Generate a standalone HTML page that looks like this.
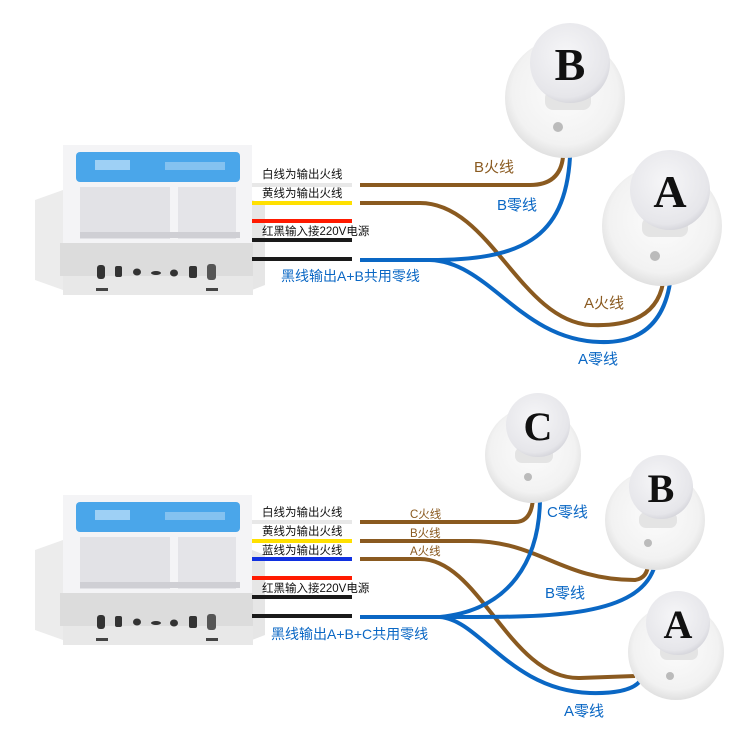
<!DOCTYPE html>
<html><head><meta charset="utf-8"><style>
body{margin:0;background:#fff;}
svg{display:block;font-family:"Liberation Sans","Noto Sans CJK SC",sans-serif;}
</style></head><body>
<svg width="750" height="749" viewBox="0 0 750 749" xmlns="http://www.w3.org/2000/svg">
<defs>
<radialGradient id="sph" cx="0.45" cy="0.4" r="0.62"><stop offset="0" stop-color="#f6f6f8"/><stop offset="0.85" stop-color="#e6e6ea"/><stop offset="1" stop-color="#d4d4da"/></radialGradient>
<radialGradient id="base" cx="0.5" cy="0.45" r="0.55"><stop offset="0" stop-color="#fcfcfc"/><stop offset="0.8" stop-color="#f2f2f2"/><stop offset="1" stop-color="#e0e0e0"/></radialGradient>
<g id="dev">
<path d="M35 200 L63 190 L63 290 L35 280 Z" fill="#ececec"/>
<path d="M252 200 L265 205 L265 285 L252 290 Z" fill="#e6e6e6"/>
<rect x="63" y="145" width="189" height="100" fill="#f4f4f6"/>
<rect x="76" y="152" width="164" height="30" rx="4" fill="#4aa6ea"/>
<rect x="95" y="160" width="35" height="10" fill="#9ed0f5"/>
<rect x="165" y="162" width="60" height="8" fill="#84c2f0"/>
<rect x="80" y="187" width="90" height="52" fill="#e2e2e6"/>
<rect x="178" y="187" width="58" height="52" fill="#e4e4e8"/>
<rect x="80" y="232" width="160" height="6" fill="#cfcfd4"/>
<rect x="60" y="243" width="193" height="33" fill="#dcdcdc"/>
<rect x="63" y="276" width="190" height="19" fill="#e8e8e8"/>
<g fill="#333"><rect x="97" y="265" width="8" height="14" rx="3"/><rect x="115" y="266" width="7" height="11" rx="2"/><ellipse cx="137" cy="272" rx="4" ry="3.5"/><ellipse cx="156" cy="273" rx="5" ry="2"/><ellipse cx="174" cy="273" rx="4" ry="3.5"/><rect x="189" y="266" width="8" height="12" rx="2"/><rect x="207" y="264" width="9" height="16" rx="3" fill="#555"/></g>
<rect x="96" y="288" width="12" height="3" fill="#444"/><rect x="206" y="288" width="12" height="3" fill="#444"/>
</g>
</defs>

<use href="#dev"/>
<g stroke-width="4" fill="none">
<line x1="252" y1="185" x2="352" y2="185" stroke="#e8e8e8"/>
<line x1="252" y1="203" x2="352" y2="203" stroke="#ffe000"/>
<line x1="252" y1="221" x2="352" y2="221" stroke="#ff1a00"/>
<line x1="252" y1="240" x2="352" y2="240" stroke="#1a1a1a"/>
<line x1="252" y1="259" x2="352" y2="259" stroke="#1a1a1a"/>
</g>
<g font-size="11.5" fill="#111">
<text x="262" y="178">白线为输出火线</text>
<text x="262" y="197">黄线为输出火线</text>
<text x="262" y="235">红黑输入接220V电源</text>
</g>
<g fill="none" stroke-width="4">
<path d="M360 185 L530 185 Q560 185 563 157" stroke="#8a5a20"/>
<path d="M360 203 L420 203 C490 203 520 320 590 325 Q655 328 663 283" stroke="#8a5a20"/>
<path d="M360 260 L430 260 C520 260 565 240 570 157" stroke="#0a67c4"/>
<path d="M430 260 C490 262 520 340 600 342 Q660 344 670 283" stroke="#0a67c4"/>
</g>
<text x="281" y="281" font-size="14" fill="#0a67c4">黑线输出A+B共用零线</text>
<text x="474" y="172" font-size="15" fill="#8a5a20">B火线</text>
<text x="497" y="210" font-size="15" fill="#0a67c4">B零线</text>
<text x="584" y="308" font-size="15" fill="#8a5a20">A火线</text>
<text x="578" y="364" font-size="15" fill="#0a67c4">A零线</text>

<circle cx="565" cy="98" r="60" fill="url(#base)"/>
<circle cx="558" cy="127" r="5" fill="#bbb"/>
<rect x="545" y="90" width="46" height="20" rx="8" fill="#e4e4e4"/>
<circle cx="570" cy="63" r="40" fill="url(#sph)"/>
<text x="570" y="80" font-family="Liberation Serif,serif" font-weight="bold" font-size="46" text-anchor="middle" fill="#111">B</text>

<circle cx="662" cy="226" r="60" fill="url(#base)"/>
<circle cx="655" cy="256" r="5" fill="#bbb"/>
<rect x="642" y="217" width="46" height="20" rx="8" fill="#e4e4e4"/>
<circle cx="670" cy="190" r="40" fill="url(#sph)"/>
<text x="670" y="207" font-family="Liberation Serif,serif" font-weight="bold" font-size="46" text-anchor="middle" fill="#111">A</text>

<use href="#dev" transform="translate(0,350)"/>
<g stroke-width="4" fill="none">
<line x1="252" y1="522" x2="352" y2="522" stroke="#e8e8e8"/>
<line x1="252" y1="541" x2="352" y2="541" stroke="#ffe000"/>
<line x1="252" y1="559" x2="352" y2="559" stroke="#1030e0"/>
<line x1="252" y1="578" x2="352" y2="578" stroke="#ff1a00"/>
<line x1="252" y1="597" x2="352" y2="597" stroke="#1a1a1a"/>
<line x1="252" y1="616" x2="352" y2="616" stroke="#1a1a1a"/>
</g>
<g font-size="11.5" fill="#111">
<text x="262" y="516">白线为输出火线</text>
<text x="262" y="535">黄线为输出火线</text>
<text x="262" y="554">蓝线为输出火线</text>
<text x="262" y="592">红黑输入接220V电源</text>
</g>
<g fill="none" stroke-width="4">
<path d="M360 522 L515 522 Q532 522 533 497" stroke="#8a5a20"/>
<path d="M360 541 L470 541 C540 541 560 580 635 580 Q648 578 648 563" stroke="#8a5a20"/>
<path d="M360 559 L420 559 C480 559 510 680 580 678 L635 676" stroke="#8a5a20"/>
<path d="M360 617 L440 617 C510 610 540 560 540 497" stroke="#0a67c4"/>
<path d="M440 617 C540 617 640 620 655 565" stroke="#0a67c4"/>
<path d="M440 617 C480 620 510 690 590 693 Q630 694 640 681" stroke="#0a67c4"/>
</g>
<text x="271" y="639" font-size="14" fill="#0a67c4">黑线输出A+B+C共用零线</text>
<text x="410" y="518" font-size="11.5" fill="#8a5a20">C火线</text>
<text x="410" y="537" font-size="11.5" fill="#8a5a20">B火线</text>
<text x="410" y="555" font-size="11.5" fill="#8a5a20">A火线</text>
<text x="547" y="517" font-size="15" fill="#0a67c4">C零线</text>
<text x="545" y="598" font-size="15" fill="#0a67c4">B零线</text>
<text x="564" y="716" font-size="15" fill="#0a67c4">A零线</text>

<circle cx="533" cy="455" r="48" fill="url(#base)"/>
<circle cx="528" cy="477" r="4" fill="#bbb"/>
<rect x="515" y="447" width="38" height="16" rx="7" fill="#e4e4e4"/>
<circle cx="538" cy="425" r="32" fill="url(#sph)"/>
<text x="538" y="440" font-family="Liberation Serif,serif" font-weight="bold" font-size="40" text-anchor="middle" fill="#111">C</text>

<circle cx="655" cy="520" r="50" fill="url(#base)"/>
<circle cx="648" cy="543" r="4" fill="#bbb"/>
<rect x="639" y="512" width="38" height="16" rx="7" fill="#e4e4e4"/>
<circle cx="661" cy="487" r="32" fill="url(#sph)"/>
<text x="661" y="502" font-family="Liberation Serif,serif" font-weight="bold" font-size="40" text-anchor="middle" fill="#111">B</text>

<circle cx="676" cy="652" r="48" fill="url(#base)"/>
<circle cx="670" cy="676" r="4" fill="#bbb"/>
<rect x="660" y="644" width="38" height="16" rx="7" fill="#e4e4e4"/>
<circle cx="678" cy="623" r="32" fill="url(#sph)"/>
<text x="678" y="638" font-family="Liberation Serif,serif" font-weight="bold" font-size="40" text-anchor="middle" fill="#111">A</text>
</svg>
</body></html>
